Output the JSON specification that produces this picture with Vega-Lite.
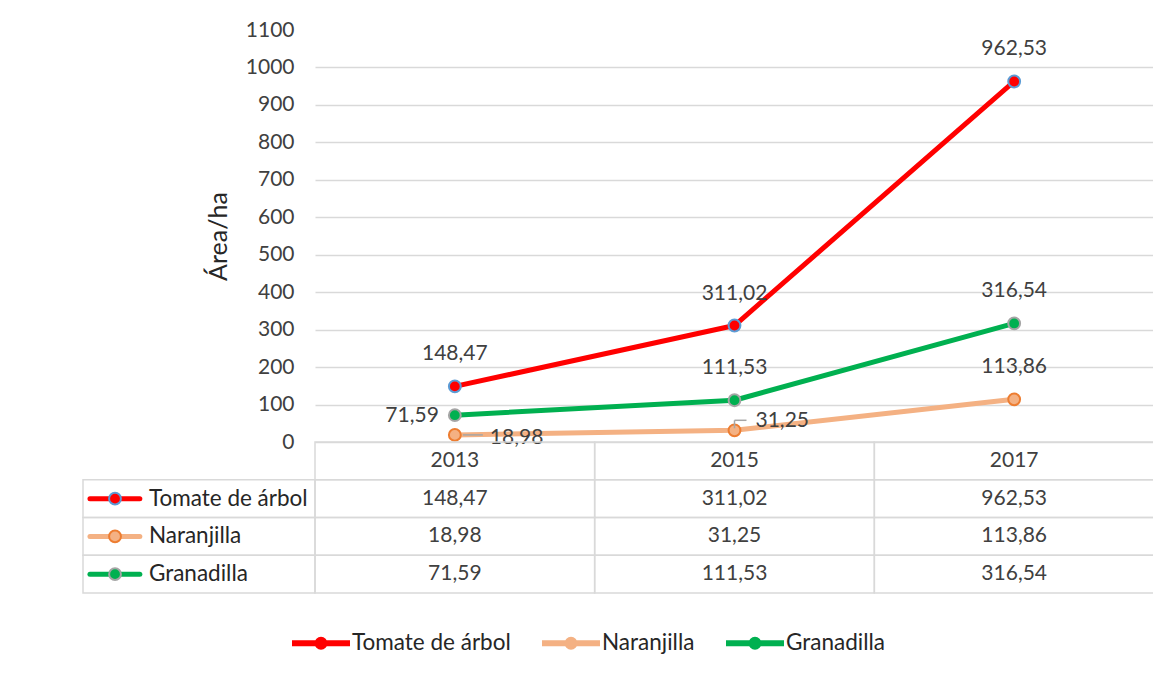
{
  "$schema": "https://vega.github.io/schema/vega-lite/v6.json",
  "background": "#ffffff",
  "padding": {"left": 82, "top": 19, "right": 0, "bottom": 21},
  "config": {
    "font": "Lato",
    "view": {"stroke": null},
    "locale": {"number": {"decimal": ",", "thousands": ".", "grouping": [3], "currency": ["", ""]}}
  },
  "datasets": {
    "area": [
      {"anio": "2013", "serie": "Tomate de árbol", "area": 148.47},
      {"anio": "2015", "serie": "Tomate de árbol", "area": 311.02},
      {"anio": "2017", "serie": "Tomate de árbol", "area": 962.53},
      {"anio": "2013", "serie": "Naranjilla", "area": 18.98},
      {"anio": "2015", "serie": "Naranjilla", "area": 31.25},
      {"anio": "2017", "serie": "Naranjilla", "area": 113.86},
      {"anio": "2013", "serie": "Granadilla", "area": 71.59},
      {"anio": "2015", "serie": "Granadilla", "area": 111.53},
      {"anio": "2017", "serie": "Granadilla", "area": 316.54}
    ]
  },
  "columns": 2,
  "spacing": 0,
  "bounds": "flush",
  "resolve": {"legend": {"color": "independent", "fill": "independent", "stroke": "independent"}},
  "concat": [
    {
      "width": 232,
      "height": 412,
      "data": {"values": []},
      "mark": {"type": "point"}
    },
    {
      "width": 839,
      "height": 412,
      "data": {"name": "area"},
      "encoding": {
        "x": {"field": "anio", "type": "ordinal", "scale": {"type": "point", "padding": 0.5}, "axis": null},
        "y": {
          "field": "area",
          "type": "quantitative",
          "scale": {"domain": [0, 1100], "nice": false, "zero": true},
          "axis": {
            "values": [0, 100, 200, 300, 400, 500, 600, 700, 800, 900, 1000, 1100],
            "format": "d",
            "title": "Área/ha",
            "titleFont": "Lato",
            "titleFontSize": 25,
            "titleFontWeight": "normal",
            "titleColor": "#262626",
            "titlePadding": 14,
            "labelFontSize": 21,
            "labelColor": "#404040",
            "labelPadding": 21,
            "ticks": false,
            "domain": false,
            "grid": true,
            "gridColor": {"condition": {"test": "datum.value >= 1100", "value": "transparent"}, "value": "#d9d9d9"},
            "gridWidth": 1.5
          }
        }
      },
      "layer": [
        {
          "mark": {"type": "line", "strokeWidth": 5, "strokeCap": "round", "strokeJoin": "round"},
          "encoding": {
            "color": {
              "field": "serie",
              "type": "nominal",
              "sort": ["Tomate de árbol", "Naranjilla", "Granadilla"],
              "scale": {"range": ["#ff0000", "#f4b183", "#00b050"]},
              "legend": null
            }
          }
        },
        {
          "mark": {"type": "point", "filled": true, "opacity": 1, "size": 140, "strokeWidth": 2},
          "encoding": {
            "fill": {
              "field": "serie",
              "type": "nominal",
              "scale": {"domain": ["Tomate de árbol", "Naranjilla", "Granadilla"], "range": ["#ff0000", "#f4b183", "#00b050"]},
              "legend": null
            },
            "stroke": {
              "field": "serie",
              "type": "nominal",
              "scale": {"domain": ["Tomate de árbol", "Naranjilla", "Granadilla"], "range": ["#5b9bd5", "#ed7d31", "#a5a5a5"]},
              "legend": null
            }
          }
        },
        {
          "transform": [{"filter": "!(datum.anio === '2013' && datum.serie !== 'Tomate de árbol') && !(datum.anio === '2015' && datum.serie === 'Naranjilla')"}],
          "mark": {"type": "text", "dy": -32, "fontSize": 21, "color": "#404040"},
          "encoding": {"text": {"field": "area", "type": "quantitative", "format": ".2f"}}
        },
        {
          "transform": [{"filter": "datum.anio === '2013' && datum.serie === 'Granadilla'"}],
          "mark": {"type": "text", "align": "right", "dx": -16, "dy": 1, "fontSize": 21, "color": "#404040"},
          "encoding": {"text": {"field": "area", "type": "quantitative", "format": ".2f"}}
        },
        {
          "transform": [{"filter": "datum.anio === '2013' && datum.serie === 'Naranjilla'"}],
          "mark": {"type": "text", "align": "left", "dx": 35, "dy": 3, "fontSize": 21, "color": "#404040"},
          "encoding": {"text": {"field": "area", "type": "quantitative", "format": ".2f"}}
        },
        {
          "transform": [{"filter": "datum.anio === '2015' && datum.serie === 'Naranjilla'"}],
          "mark": {"type": "text", "align": "left", "dx": 21, "dy": -9, "fontSize": 21, "color": "#404040"},
          "encoding": {"text": {"field": "area", "type": "quantitative", "format": ".2f"}}
        },
        {
          "transform": [{"filter": "datum.anio === '2013' && datum.serie === 'Naranjilla'"}],
          "mark": {"type": "rule", "color": "#a6a6a6", "strokeWidth": 1.5, "xOffset": 8, "x2Offset": 28},
          "encoding": {"x2": {"field": "anio"}}
        },
        {
          "transform": [{"filter": "datum.anio === '2015' && datum.serie === 'Naranjilla'"}],
          "mark": {"type": "rule", "color": "#a6a6a6", "strokeWidth": 1.5, "yOffset": -2, "y2Offset": -10},
          "encoding": {"y2": {"field": "area"}}
        },
        {
          "transform": [{"filter": "datum.anio === '2015' && datum.serie === 'Naranjilla'"}],
          "mark": {"type": "rule", "color": "#a6a6a6", "strokeWidth": 1.5, "yOffset": -10, "y2Offset": -10, "x2Offset": 12},
          "encoding": {"x2": {"field": "anio"}}
        }
      ]
    },
    {
      "width": 232,
      "height": 151,
      "data": {"name": "area"},
      "transform": [{"filter": "datum.anio === '2013'"}],
      "encoding": {
        "y": {
          "field": "serie",
          "type": "nominal",
          "scale": {"type": "band", "domain": ["Año", "Tomate de árbol", "Naranjilla", "Granadilla"], "paddingInner": 0, "paddingOuter": 0},
          "axis": null
        }
      },
      "layer": [
        {
          "mark": {"type": "rect", "fill": "#ffffff", "fillOpacity": 0, "stroke": "#d9d9d9", "strokeWidth": 1.5},
          "encoding": {
            "x": {"datum": 0, "type": "quantitative", "scale": {"domain": [0, 1], "nice": false, "zero": false}, "axis": null},
            "x2": {"datum": 1}
          }
        },
        {
          "mark": {"type": "rule", "strokeWidth": 5, "strokeCap": "round"},
          "encoding": {
            "x": {"datum": 0.03},
            "x2": {"datum": 0.245},
            "color": {
              "field": "serie",
              "type": "nominal",
              "sort": ["Tomate de árbol", "Naranjilla", "Granadilla"],
              "scale": {"range": ["#ff0000", "#f4b183", "#00b050"]},
              "legend": {
                "orient": "none",
                "legendX": 209,
                "legendY": 172,
                "direction": "horizontal",
                "title": null,
                "symbolType": "M-1,-0.0714H-0.19V0.0714H-1Z M0.19,-0.0714H1V0.0714H0.19Z M0.196,0A0.196,0.196,0,1,1,-0.196,0A0.196,0.196,0,1,1,0.196,0Z",
                "symbolSize": 3136,
                "symbolStrokeWidth": 2,
                "labelFontSize": 22.5,
                "labelColor": "#262626",
                "labelOffset": 2,
                "labelLimit": 300,
                "columnPadding": 28,
                "encode": {
                  "symbols": {
                    "update": {
                      "fill": {"scale": "color", "field": "value"},
                      "fillOpacity": {"value": 1},
                      "strokeWidth": {"value": 2},
                      "stroke": {"signal": "{gradient: 'linear', x1: 0, y1: 0, x2: 1, y2: 0, stops: [{offset: 0, color: scale('color', datum.value)}, {offset: 0.38, color: scale('color', datum.value)}, {offset: 0.38, color: scale('stroke', datum.value)}, {offset: 0.62, color: scale('stroke', datum.value)}, {offset: 0.62, color: scale('color', datum.value)}, {offset: 1, color: scale('color', datum.value)}]}"}
                    }
                  }
                }
              }
            }
          }
        },
        {
          "mark": {"type": "point", "filled": true, "opacity": 1, "size": 140, "strokeWidth": 2},
          "encoding": {
            "x": {"datum": 0.138},
            "fill": {
              "field": "serie",
              "type": "nominal",
              "scale": {"domain": ["Tomate de árbol", "Naranjilla", "Granadilla"], "range": ["#ff0000", "#f4b183", "#00b050"]},
              "legend": null
            },
            "stroke": {
              "field": "serie",
              "type": "nominal",
              "scale": {"domain": ["Tomate de árbol", "Naranjilla", "Granadilla"], "range": ["#5b9bd5", "#ed7d31", "#a5a5a5"]},
              "legend": null
            }
          }
        },
        {
          "mark": {"type": "text", "align": "left", "baseline": "middle", "fontSize": 22.5, "color": "#262626"},
          "encoding": {"x": {"datum": 0.284}, "text": {"field": "serie"}}
        }
      ]
    },
    {
      "width": 839,
      "height": 151,
      "data": {"name": "area"},
      "encoding": {
        "x": {"field": "anio", "type": "ordinal", "scale": {"type": "band", "paddingInner": 0, "paddingOuter": 0}, "axis": null}
      },
      "layer": [
        {
          "mark": {"type": "rect", "fill": "#ffffff", "fillOpacity": 0, "stroke": "#d9d9d9", "strokeWidth": 1.5},
          "encoding": {
            "y": {
              "field": "serie",
              "type": "nominal",
              "scale": {"type": "band", "domain": ["Año", "Tomate de árbol", "Naranjilla", "Granadilla"], "paddingInner": 0, "paddingOuter": 0},
              "axis": null
            }
          }
        },
        {
          "transform": [{"filter": "datum.serie === 'Tomate de árbol'"}],
          "mark": {"type": "rect", "fill": "#ffffff", "fillOpacity": 0, "stroke": "#d9d9d9", "strokeWidth": 1.5},
          "encoding": {"y": {"datum": "Año", "type": "nominal"}}
        },
        {
          "mark": {"type": "text", "baseline": "middle", "fontSize": 21, "color": "#404040"},
          "encoding": {
            "y": {"field": "serie", "type": "nominal"},
            "text": {"field": "area", "type": "quantitative", "format": ".2f"}
          }
        },
        {
          "transform": [{"filter": "datum.serie === 'Tomate de árbol'"}],
          "mark": {"type": "text", "baseline": "middle", "fontSize": 21, "color": "#404040"},
          "encoding": {"y": {"datum": "Año", "type": "nominal"}, "text": {"field": "anio"}}
        }
      ]
    }
  ]
}
